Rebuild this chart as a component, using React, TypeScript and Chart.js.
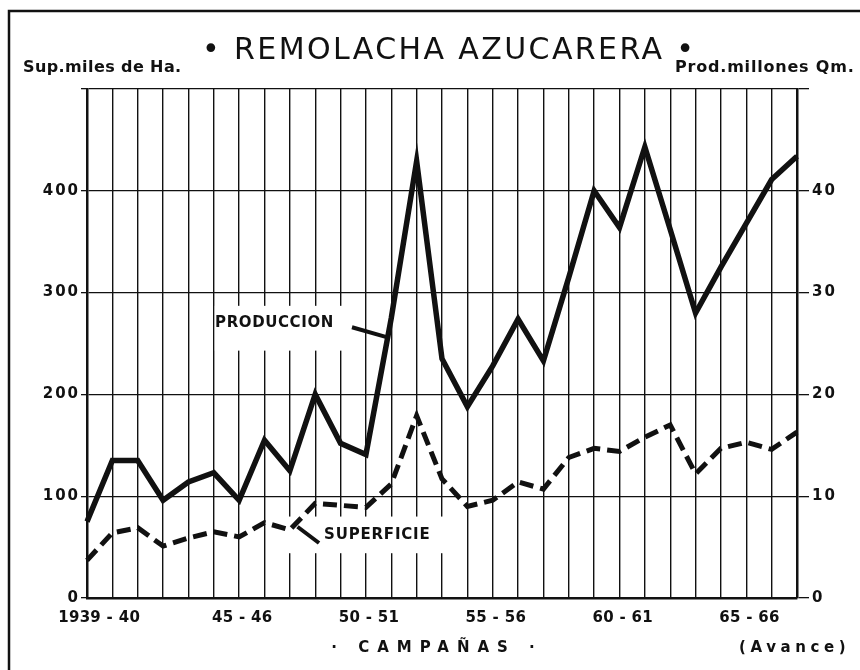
import React, { useEffect, useRef } from 'react';
import { Chart, registerables } from 'chart.js';

Chart.register(...registerables);

// Campañas (1939-40 … 1967-68)
const campanas = [
  '1939-40', '40-41', '41-42', '42-43', '43-44', '44-45', '45-46', '46-47', '47-48', '48-49',
  '49-50', '50-51', '51-52', '52-53', '53-54', '54-55', '55-56', '56-57', '57-58', '58-59',
  '59-60', '60-61', '61-62', '62-63', '63-64', '64-65', '65-66', '66-67', '67-68',
];
const campanasRotuladas = ['1939-40', '45-46', '50-51', '55-56', '60-61', '65-66'];

// Producción, millones de Qm (eje derecho)
const produccion = [
  7.5, 13.5, 13.5, 9.6, 11.4, 12.3, 9.6, 15.5, 12.5, 20.0,
  15.2, 14.1, 27.5, 42.9, 23.5, 18.8, 22.8, 27.4, 23.3, 31.5,
  40.0, 36.4, 44.3, 36.2, 28.0, 32.5, 36.8, 41.1, 43.4,
];

// Superficie, miles de Ha (eje izquierdo)
const superficie = [
  37, 64, 69, 51, 59, 65, 60, 74, 67, 93,
  91, 89, 112, 179, 117, 90, 96, 114, 107, 138,
  147, 144, 158, 170, 122, 147, 153, 146, 163,
];

const ticksSuperficie = [0, 100, 200, 300, 400];
const ticksProduccion = [0, 10, 20, 30, 40];

const titulo = '• REMOLACHA AZUCARERA •';
const rotuloIzq = 'Sup.miles de Ha.';
const rotuloDer = 'Prod.millones Qm.';
const rotuloX = '· CAMPAÑAS ·';
const rotuloAvance = '(Avance)';
const rotuloProd = 'PRODUCCION';
const rotuloSup = 'SUPERFICIE';

const INK = '#111';
const FONT = '"DejaVu Sans", sans-serif';

function drawText(
  ctx: CanvasRenderingContext2D,
  s: string,
  x: number,
  y: number,
  font: string,
  align: 'left' | 'center' | 'right',
  spacing: number
) {
  ctx.save();
  ctx.font = font;
  (ctx as any).letterSpacing = spacing + 'px';
  ctx.textAlign = 'left';
  ctx.textBaseline = 'middle';
  ctx.fillStyle = INK;
  const w = ctx.measureText(s).width - spacing;
  const x0 = align === 'center' ? x - w / 2 : align === 'right' ? x - w : x;
  ctx.fillText(s, x0, y);
  ctx.restore();
}

const decor = {
  id: 'decor',
  beforeDatasetsDraw(chart: any) {
    const { ctx, scales } = chart;
    const x = scales.x;
    const y = scales.y;
    ctx.save();
    ctx.fillStyle = '#fff';
    const b1 = [x.getPixelForValue(5.0) + 1, y.getPixelForValue(287), x.getPixelForValue(10.45), y.getPixelForValue(243)];
    ctx.fillRect(b1[0], b1[1], b1[2] - b1[0], b1[3] - b1[1]);
    const b2 = [x.getPixelForValue(7.9), y.getPixelForValue(80), x.getPixelForValue(14.4), y.getPixelForValue(44)];
    ctx.fillRect(b2[0], b2[1], b2[2] - b2[0], b2[3] - b2[1]);
    ctx.restore();
  },
  afterDraw(chart: any) {
    const { ctx, scales } = chart;
    const x = scales.x;
    const y = scales.y;
    const y1 = scales.y1;
    const area = chart.chartArea;

    // marco exterior
    ctx.save();
    ctx.strokeStyle = INK;
    ctx.lineWidth = 2.5;
    ctx.beginPath();
    ctx.moveTo(9, chart.height);
    ctx.lineTo(9, 11);
    ctx.lineTo(chart.width, 11);
    ctx.stroke();
    ctx.restore();

    // títulos
    drawText(ctx, titulo, 448, 51, `30px ${FONT}`, 'center', 2.4);
    drawText(ctx, rotuloIzq, 23, 68, `bold 16px ${FONT}`, 'left', 0.4);
    drawText(ctx, rotuloDer, 675, 68, `bold 16px ${FONT}`, 'left', 0.8);

    // ticks eje izquierdo
    for (const v of ticksSuperficie) {
      drawText(ctx, String(v), area.left - 9, y.getPixelForValue(v), `bold 15px ${FONT}`, 'right', 2);
    }
    // ticks eje derecho
    for (const v of ticksProduccion) {
      drawText(ctx, String(v), area.right + 15, y1.getPixelForValue(v), `bold 15px ${FONT}`, 'left', 2);
    }
    // ticks eje X
    campanasRotuladas.forEach((lab, k) => {
      const i = campanas.indexOf(lab);
      const px = x.getPixelForValue(i) + (k === 0 ? 12 : 3);
      drawText(ctx, lab.replace('-', ' - '), px, area.bottom + 20, `bold 15px ${FONT}`, 'center', 0.3);
    });
    drawText(ctx, rotuloX, 433, 648, `bold 15px ${FONT}`, 'center', 8);
    drawText(ctx, rotuloAvance, 739, 648, `bold 15px ${FONT}`, 'left', 4.6);

    // rótulos de series
    drawText(ctx, rotuloProd, x.getPixelForValue(5.05), y.getPixelForValue(270), `bold 15px ${FONT}`, 'left', 0.6);
    drawText(ctx, rotuloSup, x.getPixelForValue(9.35), y.getPixelForValue(62), `bold 15px ${FONT}`, 'left', 0.8);

    ctx.save();
    ctx.strokeStyle = INK;
    ctx.lineWidth = 4;
    ctx.beginPath();
    ctx.moveTo(x.getPixelForValue(10.45), y.getPixelForValue(266));
    ctx.lineTo(x.getPixelForValue(11.85), y.getPixelForValue(256));
    ctx.moveTo(x.getPixelForValue(8.3), y.getPixelForValue(70));
    ctx.lineTo(x.getPixelForValue(9.15), y.getPixelForValue(54));
    ctx.stroke();
    ctx.restore();
  },
};

export default function App() {
  const ref = useRef<HTMLCanvasElement | null>(null);

  useEffect(() => {
    if (!ref.current) return;
    const chart = new Chart(ref.current, {
      type: 'line',
      data: {
        labels: campanas,
        datasets: [
          {
            label: 'Producción',
            data: produccion,
            yAxisID: 'y1',
            borderColor: INK,
            borderWidth: 5.5,
            pointRadius: 0,
            tension: 0,
            borderJoinStyle: 'miter',
            fill: false,
          },
          {
            label: 'Superficie',
            data: superficie,
            yAxisID: 'y',
            borderColor: INK,
            borderWidth: 5,
            borderDash: [14, 7],
            pointRadius: 0,
            tension: 0,
            fill: false,
          },
        ],
      },
      options: {
        responsive: false,
        animation: false,
        layout: { padding: { top: 89, left: 0, right: 0, bottom: 0 } },
        plugins: { legend: { display: false }, tooltip: { enabled: false }, title: { display: false } },
        scales: {
          x: {
            type: 'category',
            offset: false,
            ticks: { display: false, autoSkip: false },
            grid: { color: INK, lineWidth: 1.4, drawTicks: false },
            border: { display: true, color: INK, width: 2.5 },
            afterFit: (s: any) => { s.height = 72; },
          },
          y: {
            position: 'left',
            min: 0,
            max: 500,
            ticks: { display: false, stepSize: 100 },
            grid: { color: INK, lineWidth: 1.3, drawTicks: true, tickLength: 6 },
            border: { display: true, color: INK, width: 2.5 },
            afterFit: (s: any) => { s.width = 87; },
          },
          y1: {
            position: 'right',
            min: 0,
            max: 50,
            ticks: { display: false, stepSize: 10 },
            grid: { color: INK, lineWidth: 1.3, drawOnChartArea: false, drawTicks: true, tickLength: 12 },
            border: { display: true, color: INK, width: 2.5 },
            afterFit: (s: any) => { s.width = 63; },
          },
        },
      },
      plugins: [decor],
    });
    return () => chart.destroy();
  }, []);

  return (
    <div style={{ position: 'absolute', left: 0, top: 0, width: 860, height: 670, background: '#fff' }}>
      <canvas ref={ref} width={860} height={670} style={{ display: 'block' }} />
    </div>
  );
}
